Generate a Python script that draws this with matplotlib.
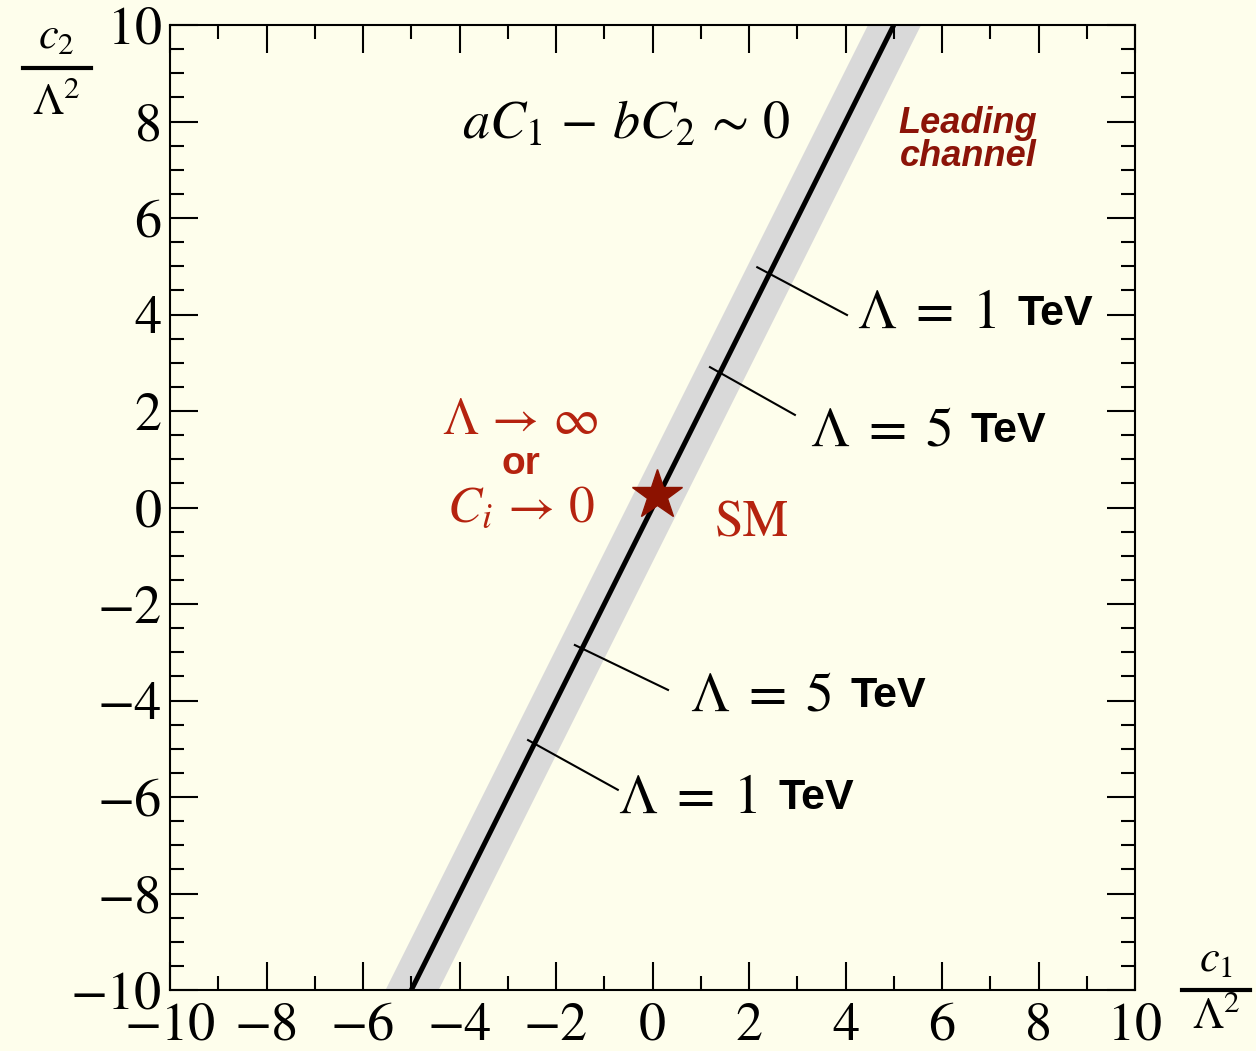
import numpy as np
import matplotlib
matplotlib.use("Agg")
import matplotlib.pyplot as plt
from matplotlib.lines import Line2D
from matplotlib.ticker import MultipleLocator

# --------------------------------------------------
# DATA

# main degenerate direction a*C1 - b*C2 ~ 0  (c2 = 2 c1)
line_c1 = [-5.0, 5.0]
line_c2 = [-10.0, 10.0]
band_halfwidth = 0.55          # in c1 units

# SM point
sm_c1 = [0.1]
sm_c2 = [0.25]

# Lambda marks: leader line start / end points and labels
mark_start_c1 = [2.17, 1.19, -1.61, -2.58]
mark_start_c2 = [4.98, 2.91, -2.85, -4.82]
mark_end_c1 = [4.03, 2.95, 0.32, -0.72]
mark_end_c2 = [3.99, 1.92, -3.78, -5.85]
mark_label_c1 = [4.24, 3.26, 0.78, -0.72]
mark_label_c2 = [4.0, 1.57, -3.92, -6.05]
mark_labels = [r"$\Lambda\;=\;1$", r"$\Lambda\;=\;5$", r"$\Lambda\;=\;5$", r"$\Lambda\;=\;1$"]

xticks = np.arange(-10, 11, 2)
yticks = np.arange(-10, 11, 2)

# --------------------------------------------------
# STYLE

bg = "#fefeec"
red = "#b5230f"
darkred = "#8c1408"

plt.rcParams["font.family"] = ["STIXGeneral", "DejaVu Sans"]
plt.rcParams["mathtext.fontset"] = "stix"

fig = plt.figure(figsize=(12.56, 10.51), dpi=100, facecolor=bg)
ax = fig.add_axes([0.1354, 0.0580, 0.9037 - 0.1354, 0.9762 - 0.0580])
ax.set_facecolor(bg)

# band + line
yy = np.array(line_c2)
ax.fill_betweenx(yy, np.array(line_c1) - band_halfwidth, np.array(line_c1) + band_halfwidth,
                 color="#d9d9d9", lw=0, zorder=1)
ax.plot(line_c1, line_c2, color="black", lw=3.6, zorder=3, solid_capstyle="butt")

# leader lines and labels
for i in range(len(mark_labels)):
    ax.plot([mark_start_c1[i], mark_end_c1[i]], [mark_start_c2[i], mark_end_c2[i]],
            color="black", lw=1.5, zorder=3)
    ax.text(mark_label_c1[i], mark_label_c2[i], mark_labels[i], fontsize=40,
            ha="left", va="center")
    ax.text(mark_label_c1[i] + 3.32, mark_label_c2[i] + 0.02, "TeV", fontsize=31,
            family="Liberation Sans", weight="bold", ha="left", va="center")

# SM star
ax.plot(sm_c1, sm_c2, marker="*", ms=38, color="#8c1200", mec="#8c1200", zorder=4, ls="none")

# texts
ax.text(-3.95, 7.9, r"$aC_1\,-\,bC_2\,\sim\,0$", fontsize=39, ha="left", va="center")
ax.text(6.54, 7.62, "Leading\nchannel", fontsize=26, family="Liberation Sans",
        weight="bold", style="italic", color=darkred, ha="center", va="center",
        linespacing=0.9)
ax.text(-2.75, 1.77, r"$\Lambda\,\rightarrow\,\infty$", fontsize=37, color=red,
        ha="center", va="center")
ax.text(-2.73, 0.9, "or", fontsize=28, family="Liberation Sans", weight="bold",
        color=red, ha="center", va="center")
ax.text(-2.73, -0.05, r"$C_i\,\rightarrow\,0$", fontsize=37, color=red,
        ha="center", va="center")
ax.text(2.06, -0.35, "SM", fontsize=37, color=red, ha="center", va="center")

# axes
ax.set_xlim(-10, 10)
ax.set_ylim(-10, 10)
ax.set_xticks(xticks)
ax.set_yticks(yticks)
ax.xaxis.set_minor_locator(MultipleLocator(1))
ax.yaxis.set_minor_locator(MultipleLocator(0.5))
ax.tick_params(which="both", direction="in", top=True, right=True, width=1.5, colors="black")
ax.tick_params(which="major", length=20, labelsize=39)
ax.tick_params(axis="x", which="major", pad=9)
ax.tick_params(axis="y", which="major", pad=6)
ax.tick_params(which="minor", length=10)
for s in ax.spines.values():
    s.set_linewidth(1.5)

# axis labels drawn as fractions
fig.text(0.0446, 0.9638, r"$c_2$", fontsize=32, ha="center", va="center")
fig.add_artist(Line2D([0.0183, 0.0725], [0.9353, 0.9353], transform=fig.transFigure,
                      color="black", lw=3))
fig.text(0.0446, 0.902, r"$\Lambda^2$", fontsize=32, ha="center", va="center")

fig.text(0.9682, 0.0856, r"$c_1$", fontsize=32, ha="center", va="center")
fig.add_artist(Line2D([0.941, 0.9952], [0.058, 0.058], transform=fig.transFigure,
                      color="black", lw=3))
fig.text(0.9682, 0.0324, r"$\Lambda^2$", fontsize=32, ha="center", va="center")

plt.savefig("out.png", dpi=100, facecolor=bg)
